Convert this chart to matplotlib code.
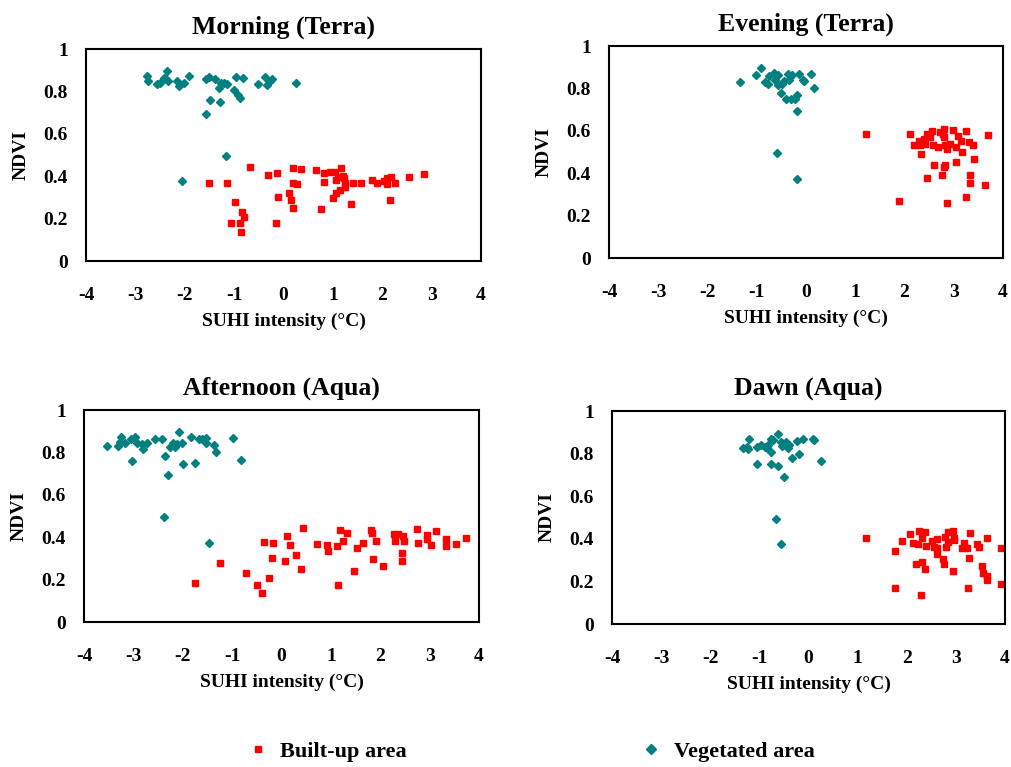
import matplotlib
matplotlib.use("Agg")
import matplotlib.pyplot as plt

plt.rcParams['font.family'] = ['Liberation Serif', 'DejaVu Serif']
plt.rcParams['font.weight'] = 'bold'
plt.rcParams['axes.unicode_minus'] = False

# Morning (Terra)
morning_veg_x = [-2.77, -2.75, -2.57, -2.51, -2.43, -2.36, -2.33, -2.39, -2.16, -2.11, -2.01, -1.91,
                 -1.57, -1.51, -1.39, -1.30, -1.26, -1.20, -1.15, -1.01, -0.97, -0.93, -0.88, -0.83,
                 -0.51, -0.37, -0.34, -0.28, -0.24, 0.25, -1.49, -1.29, -1.57, -1.16, -2.06]
morning_veg_y = [0.874, 0.847, 0.834, 0.842, 0.863, 0.894, 0.850, 0.858, 0.850, 0.826, 0.839, 0.874,
                 0.860, 0.868, 0.860, 0.815, 0.839, 0.842, 0.836, 0.808, 0.868, 0.784, 0.768, 0.863,
                 0.834, 0.868, 0.831, 0.847, 0.860, 0.842, 0.760, 0.749, 0.694, 0.495, 0.377]
morning_bu_x = [-1.51, -1.15, -0.98, -1.07, -0.88, -0.84, -0.80, -0.86, -0.68, -0.32, -0.14, -0.11,
                -0.15, 0.11, 0.15, 0.19, 0.19, 0.27, 0.19, 0.35, 0.66, 0.81, 0.82, 0.95, 1.05, 1.07,
                1.16, 1.11, 1.22, 1.25, 1.25, 1.15, 1.07, 1.01, 0.76, 1.36, 1.41, 1.57, 1.79, 1.89,
                2.03, 2.09, 2.18, 2.09, 2.26, 2.16, 2.55, 2.85, 1.20]
morning_bu_y = [0.369, 0.366, 0.279, 0.177, 0.180, 0.232, 0.208, 0.137, 0.445, 0.405, 0.413, 0.303,
                0.177, 0.319, 0.290, 0.440, 0.366, 0.361, 0.251, 0.434, 0.429, 0.416, 0.374, 0.421,
                0.421, 0.382, 0.437, 0.397, 0.390, 0.369, 0.350, 0.334, 0.323, 0.298, 0.243, 0.267,
                0.369, 0.369, 0.382, 0.366, 0.379, 0.390, 0.397, 0.361, 0.366, 0.287, 0.397, 0.410, 0.400]

# Evening (Terra)
evening_veg_x = [-1.35, -1.02, -0.92, -0.83, -0.76, -0.78, -0.66, -0.63, -0.56, -0.57, -0.50, -0.49,
                 -0.44, -0.40, -0.36, -0.34, -0.31, -0.29, -0.22, -0.19, -0.15, -0.06, -0.04, 0.10,
                 0.17, -0.19, -0.59, -0.19]
evening_veg_y = [0.830, 0.862, 0.896, 0.830, 0.858, 0.822, 0.873, 0.838, 0.862, 0.815, 0.780, 0.822,
                 0.835, 0.752, 0.869, 0.841, 0.752, 0.862, 0.752, 0.767, 0.869, 0.841, 0.835, 0.869,
                 0.802, 0.692, 0.495, 0.374]
evening_bu_x = [1.21, 2.12, 1.89, 2.19, 2.29, 2.32, 2.34, 2.39, 2.42, 2.45, 2.51, 2.55, 2.57, 2.60,
                2.45, 2.67, 2.72, 2.76, 2.79, 2.81, 2.81, 2.82, 2.81, 2.82, 2.86, 2.86, 2.93, 2.98,
                3.05, 3.05, 3.08, 3.15, 3.17, 3.25, 3.25, 3.30, 3.32, 3.32, 3.40, 3.42, 3.63, 3.69]
evening_bu_y = [0.585, 0.585, 0.269, 0.531, 0.554, 0.531, 0.492, 0.562, 0.538, 0.587, 0.571, 0.598,
                0.531, 0.440, 0.377, 0.524, 0.594, 0.393, 0.583, 0.607, 0.571, 0.531, 0.429, 0.440,
                0.514, 0.261, 0.538, 0.602, 0.524, 0.453, 0.575, 0.554, 0.502, 0.598, 0.288, 0.546,
                0.390, 0.354, 0.535, 0.466, 0.343, 0.582]

# Afternoon (Aqua)
afternoon_veg_x = [-3.54, -3.32, -3.28, -3.25, -3.16, -3.05, -2.96, -2.93, -3.03, -2.83, -2.81, -2.73,
                   -2.56, -2.43, -2.36, -2.30, -2.38, -2.26, -2.20, -2.16, -2.12, -2.07, -2.02, -2.00,
                   -1.83, -1.76, -1.68, -1.61, -1.53, -1.53, -1.36, -1.33, -1.47, -0.99, -0.82]
afternoon_veg_y = [0.830, 0.830, 0.849, 0.873, 0.846, 0.865, 0.873, 0.846, 0.758, 0.838, 0.816, 0.843,
                   0.862, 0.862, 0.783, 0.692, 0.495, 0.827, 0.846, 0.824, 0.840, 0.896, 0.846, 0.747,
                   0.871, 0.752, 0.862, 0.865, 0.868, 0.843, 0.835, 0.803, 0.374, 0.868, 0.766]
afternoon_bu_x = [-1.75, -1.24, -0.72, -0.50, -0.39, -0.35, -0.25, -0.20, -0.18, 0.07, 0.11, 0.18,
                  0.30, 0.39, 0.43, 0.72, 0.92, 0.94, 1.12, 1.14, 1.19, 1.24, 1.32, 1.46, 1.53, 1.66,
                  1.82, 1.84, 1.85, 1.91, 2.05, 2.27, 2.29, 2.35, 2.44, 2.44, 2.47, 2.49, 2.74, 2.76,
                  2.95, 2.95, 3.03, 3.13, 3.33, 3.33, 3.53, 3.74]
afternoon_bu_y = [0.184, 0.278, 0.231, 0.176, 0.137, 0.377, 0.208, 0.302, 0.373, 0.288, 0.406, 0.362,
                  0.314, 0.248, 0.443, 0.366, 0.362, 0.335, 0.358, 0.173, 0.433, 0.382, 0.418, 0.241,
                  0.349, 0.373, 0.433, 0.420, 0.296, 0.382, 0.264, 0.415, 0.382, 0.413, 0.325, 0.288,
                  0.404, 0.382, 0.440, 0.373, 0.412, 0.390, 0.362, 0.428, 0.390, 0.358, 0.366, 0.396]

# Dawn (Aqua)
dawn_veg_x = [-1.33, -1.25, -1.23, -1.21, -1.04, -1.04, -0.96, -0.89, -0.85, -0.82, -0.77, -0.77,
              -0.77, -0.72, -0.62, -0.62, -0.56, -0.53, -0.49, -0.45, -0.41, -0.39, -0.33, -0.24,
              -0.20, -0.12, 0.10, 0.12, 0.25, -0.67, -0.56]
dawn_veg_y = [0.825, 0.833, 0.820, 0.867, 0.833, 0.751, 0.840, 0.833, 0.828, 0.840, 0.809, 0.867,
              0.751, 0.864, 0.892, 0.742, 0.856, 0.837, 0.692, 0.856, 0.825, 0.840, 0.778, 0.861,
              0.797, 0.867, 0.867, 0.864, 0.765, 0.493, 0.374]
dawn_bu_x = [1.18, 1.77, 1.77, 1.90, 2.07, 2.13, 2.24, 2.25, 2.19, 2.30, 2.32, 2.32, 2.37, 2.37,
             2.39, 2.51, 2.56, 2.61, 2.62, 2.61, 2.73, 2.76, 2.78, 2.80, 2.85, 2.85, 2.94, 2.95,
             2.96, 2.96, 3.12, 3.17, 3.22, 3.24, 3.26, 3.28, 3.43, 3.47, 3.53, 3.56, 3.63, 3.64,
             3.64, 3.91, 3.93]
dawn_bu_y = [0.405, 0.343, 0.171, 0.391, 0.421, 0.379, 0.374, 0.438, 0.283, 0.136, 0.293, 0.405,
             0.430, 0.258, 0.366, 0.391, 0.360, 0.399, 0.327, 0.358, 0.304, 0.282, 0.410, 0.363,
             0.387, 0.430, 0.249, 0.436, 0.405, 0.394, 0.355, 0.379, 0.358, 0.171, 0.311, 0.429,
             0.374, 0.363, 0.274, 0.238, 0.405, 0.227, 0.207, 0.186, 0.358]

titles = ['Morning (Terra)', 'Evening (Terra)', 'Afternoon (Aqua)', 'Dawn (Aqua)']
panels = [(morning_bu_x, morning_bu_y, morning_veg_x, morning_veg_y),
          (evening_bu_x, evening_bu_y, evening_veg_x, evening_veg_y),
          (afternoon_bu_x, afternoon_bu_y, afternoon_veg_x, afternoon_veg_y),
          (dawn_bu_x, dawn_bu_y, dawn_veg_x, dawn_veg_y)]
x_ticks = [-4, -3, -2, -1, 0, 1, 2, 3, 4]
y_ticks = [0, 0.2, 0.4, 0.6, 0.8, 1]
y_labels = ['0', '0.2', '0.4', '0.6', '0.8', '1']

fig = plt.figure(figsize=(10.11, 7.67), dpi=100)
boxes = [[0.0851, 0.6597, 0.3907, 0.2764],
         [0.6024, 0.6636, 0.3897, 0.2764],
         [0.0831, 0.1890, 0.3907, 0.2764],
         [0.6053, 0.1864, 0.3887, 0.2777]]

for box, title, (bx, by, vx, vy) in zip(boxes, titles, panels):
    ax = fig.add_axes(box)
    ax.plot(bx, by, 's', color='#FF0000', markersize=4.5, label='Built-up area')
    ax.plot(vx, vy, 'D', color='#008080', markersize=4.5, label='Vegetated area')
    ax.set_xlim(-4, 4)
    ax.set_ylim(0, 1)
    ax.set_xticks(x_ticks)
    ax.set_yticks(y_ticks)
    ax.set_yticklabels(y_labels)
    ax.tick_params(axis='x', length=0, pad=19, labelsize=14)
    ax.tick_params(axis='y', length=0, pad=13, labelsize=14)
    for s in ax.spines.values():
        s.set_linewidth(1.5)
    ax.set_title(title, fontsize=18.5, fontweight='bold', pad=11)
    ax.set_xlabel('SUHI intensity (°C)', fontsize=14, fontweight='bold', labelpad=6)
    ax.set_ylabel('NDVI', fontsize=14, fontweight='bold', labelpad=10)

handles, labels = ax.get_legend_handles_labels()
fig.legend(handles, labels, loc='center', bbox_to_anchor=(0.525, 0.02), ncol=2, frameon=False,
           prop={'size': 16, 'weight': 'bold'}, columnspacing=10.5, handlelength=1, handletextpad=0.5,
           markerscale=1.1)

fig.savefig('out.png', dpi=100)
